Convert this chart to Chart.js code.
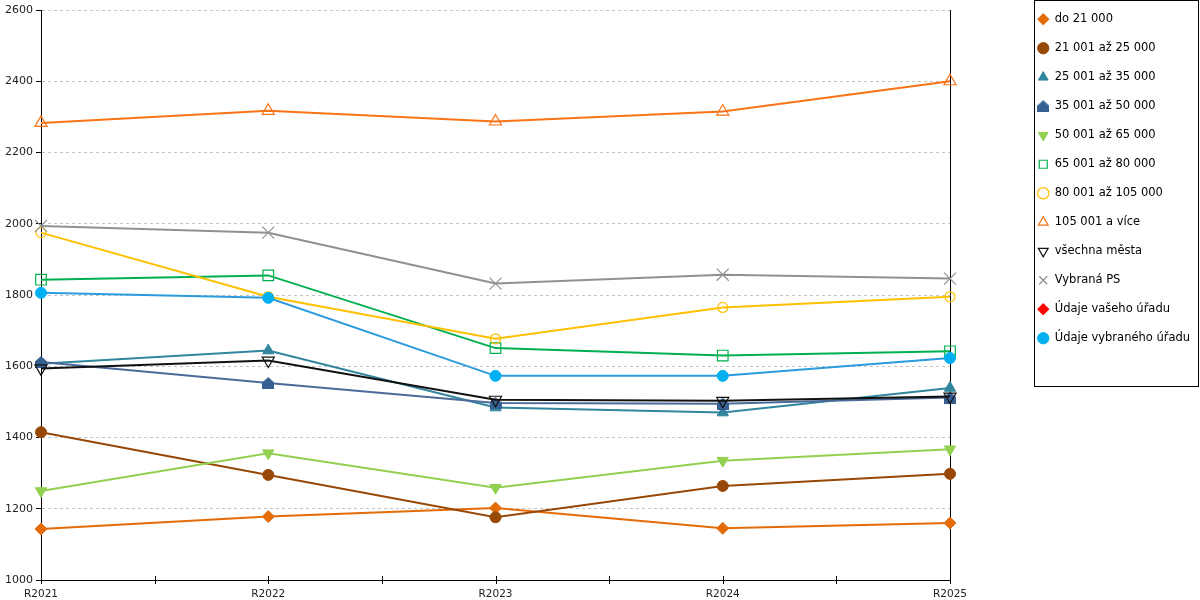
<!DOCTYPE html>
<html>
<head>
<meta charset="utf-8">
<script src="https://cdn.jsdelivr.net/npm/chart.js@4.4.0/dist/chart.umd.min.js"></script>
<style>
  html, body { margin: 0; padding: 0; background: #fff; }
  #wrap { width: 1200px; height: 600px; }
</style>
</head>
<body>
<div id="wrap"><canvas id="payChart"></canvas></div>
<script>
const years = ["R2021", "R2022", "R2023", "R2024", "R2025"];
const yTicks = [1000, 1200, 1400, 1600, 1800, 2000, 2200, 2400, 2600];

const seriesNames = [
  "do 21 000",
  "21 001 až 25 000",
  "25 001 až 35 000",
  "35 001 až 50 000",
  "50 001 až 65 000",
  "65 001 až 80 000",
  "80 001 až 105 000",
  "105 001 a více",
  "všechna města",
  "Vybraná PS",
  "Údaje vašeho úřadu",
  "Údaje vybraného úřadu"
];

// values
const do21000   = [1143, 1178, 1202, 1145, 1160];
const do25000   = [1415, 1295, 1176, 1264, 1298];
const do35000   = [1607, 1644, 1484, 1470, 1539];
const do50000   = [1612, 1553, 1497, 1495, 1512];
const do65000   = [1250, 1356, 1259, 1335, 1367];
const do80000   = [1843, 1855, 1651, 1630, 1642];
const do105000  = [1975, 1795, 1677, 1765, 1795];
const nad105000 = [2283, 2317, 2287, 2315, 2400];
const vsechnaMesta = [1594, 1616, 1506, 1503, 1515];
const vybranaPS    = [1994, 1975, 1832, 1857, 1846];
const vasUrad      = [null, null, null, null, null];
const vybranyUrad  = [1806, 1792, 1573, 1573, 1623];

const seriesValues = [do21000, do25000, do35000, do50000, do65000, do80000,
  do105000, nad105000, vsechnaMesta, vybranaPS, vasUrad, vybranyUrad];

// small "house" marker (pentagon) for 35 001 až 50 000
function housePoint(color, size) {
  const c = document.createElement("canvas");
  c.width = size; c.height = size;
  const g = c.getContext("2d");
  g.fillStyle = color;
  g.beginPath();
  g.moveTo(size / 2, 0); g.lineTo(size, size * 0.45); g.lineTo(size, size);
  g.lineTo(0, size); g.lineTo(0, size * 0.45);
  g.closePath();
  g.fill();
  return c;
}

const styles = [
  { line: "#E36C09", fill: "#E36C09", point: "rectRot", r: 6 },
  { line: "#984806", fill: "#984806", point: "circle", r: 5.5 },
  { line: "#31859C", fill: "#31859C", point: "triangle", r: 6.5 },
  { line: "#4A6A9A", fill: "#376092", point: housePoint("#376092", 12), r: 6 },
  { line: "#92D050", fill: "#92D050", point: "triangle", r: 6.5, rot: 180 },
  { line: "#00B050", fill: "rgba(255,255,255,0)", point: "rect", r: 7.5, open: true },
  { line: "#FFC000", fill: "rgba(255,255,255,0)", point: "circle", r: 5, open: true },
  { line: "#F97316", fill: "rgba(255,255,255,0)", point: "triangle", r: 7, open: true },
  { line: "#111111", fill: "rgba(255,255,255,0)", point: "triangle", r: 7, rot: 180, open: true },
  { line: "#909090", fill: "#909090", point: "crossRot", r: 8.5, open: true },
  { line: "#FF0000", fill: "#FF0000", point: "rectRot", r: 6 },
  { line: "#2A9BDD", fill: "#00B0F0", point: "circle", r: 5.5 }
];

const datasets = seriesNames.map((name, i) => {
  const s = styles[i];
  return {
    label: name,
    data: seriesValues[i],
    borderColor: s.line,
    backgroundColor: s.fill,
    borderWidth: 2,
    pointStyle: s.point,
    pointRadius: s.r,
    pointRotation: s.rot || 0,
    pointBackgroundColor: s.fill,
    pointBorderColor: s.open ? s.line : s.fill,
    pointBorderWidth: s.open ? 1.2 : 1,
    tension: 0,
    order: seriesNames.length - 1 - i // later series on top
  };
});

// crossing tick marks on x axis + frame round legend
const axisExtras = {
  id: "axisExtras",
  afterDraw(chart) {
    const { ctx } = chart;
    const x = chart.scales.x;
    const yb = chart.chartArea.bottom;
    ctx.save();
    ctx.strokeStyle = "#000";
    ctx.lineWidth = 1;
    ctx.beginPath();
    for (let i = 0; i <= years.length - 1; i += 0.5) {
      const px = Math.round(x.getPixelForValue(i)) + 0.5;
      ctx.moveTo(px, yb - 4);
      ctx.lineTo(px, yb + 4);
    }
    ctx.stroke();
    ctx.strokeRect(1034.5, 0.5, 164, 386);
    ctx.restore();
  }
};

Chart.defaults.font.family = "'DejaVu Sans', sans-serif";
Chart.defaults.color = "#222";

new Chart(document.getElementById("payChart"), {
  type: "line",
  data: { labels: years, datasets: datasets },
  plugins: [axisExtras],
  options: {
    responsive: true,
    maintainAspectRatio: false,
    animation: false,
    layout: { padding: { top: -4, right: 0, bottom: 0, left: 0 } },
    scales: {
      x: {
        grid: { display: false, drawTicks: false },
        border: { display: true, color: "#000", width: 1 },
        ticks: { font: { size: 10.5 }, color: "#222", padding: 8, maxRotation: 0 },
        afterFit: (s) => { s.height = 20; }
      },
      y: {
        min: 1000,
        max: 2600,
        afterBuildTicks: (s) => { s.ticks = yTicks.map(v => ({ value: v })); },
        grid: { color: "#C4C4C4", tickColor: "#000", tickLength: 5, lineWidth: 1 },
        border: { display: true, color: "#000", width: 1, dash: [3, 3] },
        ticks: { font: { size: 11 }, color: "#222", padding: 3, callback: (v) => String(v) },
        afterFit: (s) => { s.width = 41; s.paddingTop = 10; }
      },
      y2: {
        position: "right",
        min: 0,
        max: 1,
        grid: { display: false, drawTicks: false },
        border: { display: true, color: "#000", width: 1 },
        ticks: { display: false },
        afterFit: (s) => { s.width = 250 - s.chart.legend.width; }
      }
    },
    plugins: {
      tooltip: { enabled: false },
      legend: {
        position: "right",
        align: "start",
        maxWidth: 180,
        labels: {
          usePointStyle: true,
          boxHeight: 8,
          boxWidth: 12,
          padding: 17.5,
          color: "#000",
          font: { size: 11.5 },
          sort: (a, b) => a.datasetIndex - b.datasetIndex
        }
      }
    }
  }
});
</script>
</body>
</html>
